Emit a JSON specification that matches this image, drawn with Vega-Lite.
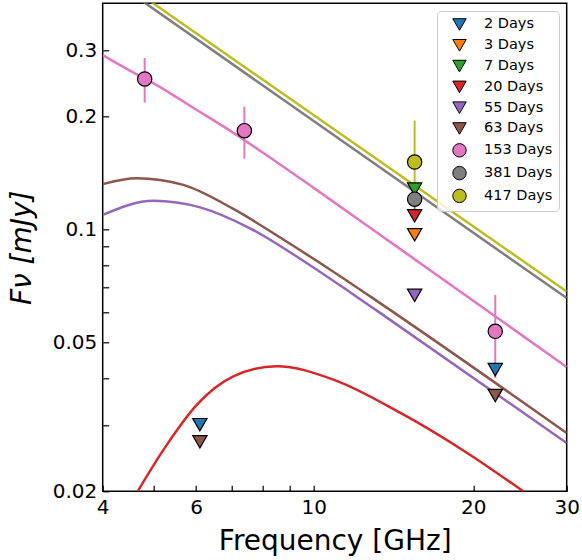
{
  "$schema": "https://vega.github.io/schema/vega-lite/v6.json",
  "width": 464,
  "height": 488,
  "autosize": {"type": "none"},
  "padding": {"left": 102.7, "top": 3.3, "right": 15.3, "bottom": 68},
  "background": "white",
  "config": {
    "font": "DejaVu Sans",
    "view": {"stroke": "black", "strokeWidth": 1.5},
    "axis": {
      "grid": false,
      "domain": false,
      "ticks": true,
      "tickColor": "black",
      "tickSize": -6,
      "tickWidth": 1.2,
      "labelColor": "black",
      "labelFont": "DejaVu Sans",
      "labelFontSize": 20,
      "labelPadding": 12,
      "labelFlush": false,
      "labelBound": false,
      "labelOverlap": false,
      "titleFont": "DejaVu Sans",
      "titleFontWeight": "normal",
      "titleColor": "black",
      "titleFontSize": 28
    },
    "legend": {
      "padding": 6,
      "rowPadding": 3.8,
      "symbolOffset": 9,
      "labelOffset": 17,
      "labelFontSize": 14.5,
      "labelFont": "DejaVu Sans",
      "labelColor": "black",
      "symbolSize": 180,
      "symbolStrokeColor": "black",
      "symbolStrokeWidth": 1,
      "fillColor": "rgba(255,255,255,0.8)",
      "strokeColor": "#cccccc",
      "cornerRadius": 4
    }
  },
  "datasets": {
    "curves": [
      {"series": "20 Days", "freq": 4.4, "flux": 0.01742},
      {"series": "20 Days", "freq": 4.657, "flux": 0.0200},
      {"series": "20 Days", "freq": 5.283, "flux": 0.0266},
      {"series": "20 Days", "freq": 6.018, "flux": 0.0340},
      {"series": "20 Days", "freq": 7.054, "flux": 0.0405},
      {"series": "20 Days", "freq": 8.517, "flux": 0.0431},
      {"series": "20 Days", "freq": 10.89, "flux": 0.0397},
      {"series": "20 Days", "freq": 14.55, "flux": 0.0324},
      {"series": "20 Days", "freq": 19.44, "flux": 0.02535},
      {"series": "20 Days", "freq": 24.85, "flux": 0.0200},
      {"series": "20 Days", "freq": 27.0, "flux": 0.01843},
      {"series": "55 Days", "freq": 4.0, "flux": 0.1091},
      {"series": "55 Days", "freq": 4.984, "flux": 0.1190},
      {"series": "55 Days", "freq": 6.105, "flux": 0.1143},
      {"series": "55 Days", "freq": 7.584, "flux": 0.1005},
      {"series": "55 Days", "freq": 9.424, "flux": 0.0834},
      {"series": "55 Days", "freq": 11.71, "flux": 0.0679},
      {"series": "55 Days", "freq": 13.34, "flux": 0.0598},
      {"series": "55 Days", "freq": 30.0, "flux": 0.0269},
      {"series": "63 Days", "freq": 4.0, "flux": 0.1318},
      {"series": "63 Days", "freq": 4.637, "flux": 0.1367},
      {"series": "63 Days", "freq": 5.677, "flux": 0.1312},
      {"series": "63 Days", "freq": 7.054, "flux": 0.1132},
      {"series": "63 Days", "freq": 8.763, "flux": 0.0938},
      {"series": "63 Days", "freq": 10.89, "flux": 0.0770},
      {"series": "63 Days", "freq": 13.34, "flux": 0.0635},
      {"series": "63 Days", "freq": 30.0, "flux": 0.0286},
      {"series": "153 Days", "freq": 4.0, "flux": 0.2911},
      {"series": "153 Days", "freq": 4.5, "flux": 0.2647},
      {"series": "153 Days", "freq": 5.0, "flux": 0.2443},
      {"series": "153 Days", "freq": 6.0, "flux": 0.2084},
      {"series": "153 Days", "freq": 7.0, "flux": 0.1819},
      {"series": "153 Days", "freq": 8.0, "flux": 0.1603},
      {"series": "153 Days", "freq": 10.0, "flux": 0.1288},
      {"series": "153 Days", "freq": 15.0, "flux": 0.0859},
      {"series": "153 Days", "freq": 30.0, "flux": 0.0429},
      {"series": "381 Days", "freq": 4.0, "flux": 0.4808},
      {"series": "381 Days", "freq": 30.0, "flux": 0.0655},
      {"series": "417 Days", "freq": 4.0, "flux": 0.4966},
      {"series": "417 Days", "freq": 30.0, "flux": 0.0682}
    ],
    "errors": [
      {"series": "153 Days", "freq": 4.8, "lo": 0.2174, "hi": 0.286},
      {"series": "153 Days", "freq": 7.4, "lo": 0.154, "hi": 0.212},
      {"series": "153 Days", "freq": 22.0, "lo": 0.0401, "hi": 0.0667},
      {"series": "381 Days", "freq": 15.5, "lo": 0.108, "hi": 0.132},
      {"series": "417 Days", "freq": 15.5, "lo": 0.118, "hi": 0.1947}
    ],
    "points": [
      {"series": "2 Days", "freq": 6.1, "flux": 0.0301},
      {"series": "2 Days", "freq": 22.0, "flux": 0.0422},
      {"series": "3 Days", "freq": 15.5, "flux": 0.0966},
      {"series": "7 Days", "freq": 15.5, "flux": 0.1278},
      {"series": "20 Days", "freq": 15.5, "flux": 0.1085},
      {"series": "55 Days", "freq": 15.5, "flux": 0.0666},
      {"series": "63 Days", "freq": 6.1, "flux": 0.0271},
      {"series": "63 Days", "freq": 22.0, "flux": 0.0360},
      {"series": "153 Days", "freq": 4.8, "flux": 0.2514},
      {"series": "153 Days", "freq": 7.4, "flux": 0.183},
      {"series": "153 Days", "freq": 22.0, "flux": 0.0534},
      {"series": "381 Days", "freq": 15.5, "flux": 0.1202},
      {"series": "417 Days", "freq": 15.5, "flux": 0.151}
    ]
  },
  "encoding": {
    "x": {
      "field": "freq",
      "type": "quantitative",
      "scale": {"type": "log", "domain": [4, 30], "nice": false},
      "axis": {
        "title": "Frequency [GHz]",
        "values": [4, 5, 6, 7, 8, 9, 10, 20, 30],
        "labelExpr": "indexof([4, 6, 10, 20, 30], datum.value) >= 0 ? '' + datum.value : ''",
        "titleX": 232,
        "titleY": 58,
        "titleBaseline": "alphabetic",
        "titleAlign": "center"
      }
    },
    "y": {
      "field": "flux",
      "type": "quantitative",
      "scale": {"type": "log", "domain": [0.02, 0.4], "nice": false},
      "axis": {
        "title": "Fν [mJy]",
        "titleFontStyle": "italic",
        "values": [0.02, 0.03, 0.04, 0.05, 0.06, 0.07, 0.08, 0.09, 0.1, 0.2, 0.3],
        "labelExpr": "indexof([0.02, 0.05, 0.1, 0.2, 0.3], datum.value) >= 0 ? format(datum.value, '~g') : ''",
        "titleX": -80,
        "titleY": 244,
        "titleAngle": -90,
        "titleBaseline": "middle",
        "titleAlign": "center"
      }
    }
  },
  "layer": [
    {
      "data": {"name": "curves"},
      "transform": [{"filter": "datum.series === '20 Days'"}],
      "mark": {"type": "line", "strokeWidth": 2.5, "clip": true, "interpolate": "monotone", "color": "#d62728"},
      "encoding": {}
    },
    {
      "data": {"name": "curves"},
      "transform": [{"filter": "datum.series === '55 Days'"}],
      "mark": {"type": "line", "strokeWidth": 2.5, "clip": true, "interpolate": "monotone", "color": "#9467bd"},
      "encoding": {}
    },
    {
      "data": {"name": "curves"},
      "transform": [{"filter": "datum.series === '63 Days'"}],
      "mark": {"type": "line", "strokeWidth": 2.5, "clip": true, "interpolate": "monotone", "color": "#8c564b"},
      "encoding": {}
    },
    {
      "data": {"name": "curves"},
      "transform": [{"filter": "datum.series === '153 Days'"}],
      "mark": {"type": "line", "strokeWidth": 2.5, "clip": true, "interpolate": "monotone", "color": "#e377c2"},
      "encoding": {}
    },
    {
      "data": {"name": "curves"},
      "transform": [{"filter": "datum.series === '381 Days'"}],
      "mark": {"type": "line", "strokeWidth": 2.5, "clip": true, "color": "#7f7f7f"},
      "encoding": {}
    },
    {
      "data": {"name": "curves"},
      "transform": [{"filter": "datum.series === '417 Days'"}],
      "mark": {"type": "line", "strokeWidth": 2.5, "clip": true, "color": "#bcbd22"},
      "encoding": {}
    },
    {
      "data": {"name": "errors"},
      "transform": [{"filter": "datum.series === '153 Days'"}],
      "mark": {"type": "rule", "strokeWidth": 2, "clip": true, "color": "#e377c2"},
      "encoding": {
        "y": {"field": "lo", "type": "quantitative"},
        "y2": {"field": "hi"}
      }
    },
    {
      "data": {"name": "errors"},
      "transform": [{"filter": "datum.series === '381 Days'"}],
      "mark": {"type": "rule", "strokeWidth": 2, "clip": true, "color": "#7f7f7f"},
      "encoding": {
        "y": {"field": "lo", "type": "quantitative"},
        "y2": {"field": "hi"}
      }
    },
    {
      "data": {"name": "errors"},
      "transform": [{"filter": "datum.series === '417 Days'"}],
      "mark": {"type": "rule", "strokeWidth": 2, "clip": true, "color": "#bcbd22"},
      "encoding": {
        "y": {"field": "lo", "type": "quantitative"},
        "y2": {"field": "hi"}
      }
    },
    {
      "data": {"name": "points"},
      "mark": {"type": "point", "filled": true, "opacity": 1, "stroke": "black", "strokeWidth": 1.2, "size": 205},
      "encoding": {
        "color": {
          "field": "series",
          "type": "nominal",
          "scale": {
            "domain": ["2 Days", "3 Days", "7 Days", "20 Days", "55 Days", "63 Days", "153 Days", "381 Days", "417 Days"],
            "range": ["#1f77b4", "#ff7f0e", "#2ca02c", "#d62728", "#9467bd", "#8c564b", "#e377c2", "#7f7f7f", "#bcbd22"]
          },
          "legend": {"title": null, "orient": "none", "legendX": 334.3, "legendY": 7.7}
        },
        "shape": {
          "field": "series",
          "type": "nominal",
          "scale": {
            "domain": ["2 Days", "3 Days", "7 Days", "20 Days", "55 Days", "63 Days", "153 Days", "381 Days", "417 Days"],
            "range": ["triangle-down", "triangle-down", "triangle-down", "triangle-down", "triangle-down", "triangle-down", "circle", "circle", "circle"]
          },
          "legend": {"title": null, "orient": "none", "legendX": 334.3, "legendY": 7.7}
        }
      }
    }
  ]
}
